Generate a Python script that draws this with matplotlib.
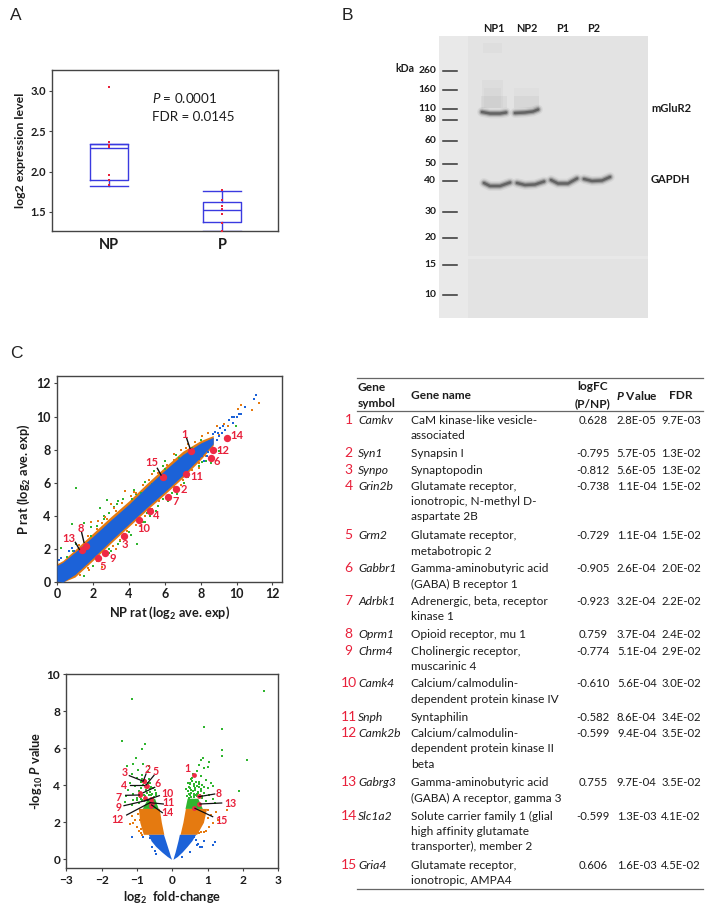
import math
import matplotlib
matplotlib.use("Agg")
import matplotlib.pyplot as plt
from matplotlib.lines import Line2D
from matplotlib.patches import Rectangle

W, H = 714, 913
TXT = "#1c1c1c"
RED = "#e8203a"
BLUE = "#1c62d8"
ORANGE = "#e57a10"
GREEN = "#2fb52f"

plt.rcParams["font.family"] = ["Lato", "DejaVu Sans"]
plt.rcParams["mathtext.fontset"] = "custom"
plt.rcParams["mathtext.rm"] = "Lato"
plt.rcParams["mathtext.it"] = "Lato:italic"
plt.rcParams["mathtext.bf"] = "Lato:bold"
plt.rcParams["mathtext.bfit"] = "Lato:italic:bold"
plt.rcParams["mathtext.default"] = "bf"

# ---- panel A ----
box_names = ["NP", "P"]
np_stats = dict(whislo=1.82, q1=1.90, med=2.29, q3=2.34, whishi=2.34)
p_stats = dict(whislo=1.26, q1=1.38, med=1.52, q3=1.62, whishi=1.76)
np_points = [3.05, 2.36, 2.33, 2.31, 2.30, 1.96, 1.89, 1.84]
p_points = [1.77, 1.65, 1.57, 1.54, 1.47, 1.36, 1.27]

# ---- panel B ----
kda_labels = ["260", "160", "110", "80", "60", "50", "40", "30", "20", "15", "10"]
kda_y = [71, 90.3, 108.7, 120, 141.3, 163.7, 181.3, 212.3, 237.7, 265, 294.7]
lane_names = ["NP1", "NP2", "P1", "P2"]
lane_x = [494.3, 527, 562.3, 594]

# ---- panel C table ----
symbols = ["Camkv", "Syn1", "Synpo", "Grin2b", "Grm2", "Gabbr1", "Adrbk1", "Oprm1",
           "Chrm4", "Camk4", "Snph", "Camk2b", "Gabrg3", "Slc1a2", "Gria4"]
gene_names = [
    ["CaM kinase-like vesicle-", "associated"],
    ["Synapsin I"],
    ["Synaptopodin"],
    ["Glutamate receptor,", "ionotropic, N-methyl D-", "aspartate 2B"],
    ["Glutamate receptor,", "metabotropic 2"],
    ["Gamma-aminobutyric acid", "(GABA) B receptor 1"],
    ["Adrenergic, beta, receptor", "kinase 1"],
    ["Opioid receptor, mu 1"],
    ["Cholinergic receptor,", "muscarinic 4"],
    ["Calcium/calmodulin-", "dependent protein kinase IV"],
    ["Syntaphilin"],
    ["Calcium/calmodulin-", "dependent protein kinase II", "beta"],
    ["Gamma-aminobutyric acid", "(GABA) A receptor, gamma 3"],
    ["Solute carrier family 1 (glial", "high affinity glutamate", "transporter), member 2"],
    ["Glutamate receptor,", "ionotropic, AMPA4"],
]
logfc = [0.628, -0.795, -0.812, -0.738, -0.729, -0.905, -0.923, 0.759,
         -0.774, -0.610, -0.582, -0.599, 0.755, -0.599, 0.606]
p_vals = ["2.8E-05", "5.7E-05", "5.6E-05", "1.1E-04", "1.1E-04", "2.6E-04", "3.2E-04", "3.7E-04",
          "5.1E-04", "5.6E-04", "8.6E-04", "9.4E-04", "9.7E-04", "1.3E-03", "1.6E-03"]
fdr_vals = ["9.7E-03", "1.3E-02", "1.3E-02", "1.5E-02", "1.5E-02", "2.0E-02", "2.2E-02", "2.4E-02",
            "2.9E-02", "3.0E-02", "3.4E-02", "3.5E-02", "3.5E-02", "4.1E-02", "4.5E-02"]
row_y = [420, 453.3, 470, 486, 535.7, 568.7, 601.3, 634.8, 651, 683.7, 717, 733.3, 782.7, 816, 865.3]

# ---- panel C scatter: band outlines and stray points ----
band_x = [0, 0.33, 1, 2, 3, 4, 5, 6, 7, 8, 8.7]
blue_low = [0.05, 0, 0.45, 1.45, 2.5, 3.5, 4.5, 5.45, 6.45, 7.55, 8.35]
blue_high = [1.0, 1.2, 1.8, 2.75, 3.75, 4.7, 5.75, 6.75, 7.7, 8.4, 8.75]
orange_low = [0, 0, 0.3, 1.3, 2.35, 3.35, 4.35, 5.3, 6.3, 7.4, 8.25]
orange_high = [1.1, 1.3, 1.95, 2.95, 3.95, 4.9, 5.95, 6.95, 7.9, 8.55, 8.85]
red_x = [7.45, 6.6, 3.75, 5.2, 2.3, 8.55, 6.2, 1.6, 2.65, 4.55, 7.2, 8.7, 1.4, 9.45, 5.9]
red_y = [7.9, 5.6, 2.8, 4.3, 1.45, 7.5, 5.15, 2.2, 1.75, 3.75, 6.5, 7.95, 1.95, 8.7, 6.35]
green_x = [1.07, 0.82, 2.8, 2.4, 3.36, 4.47, 1.5, 0.25, 0.9, 1.25, 1.5, 2.9, 3.1, 2.2, 2.6, 3.5, 3.9,
           4.2, 4.4, 4.7, 5.0, 5.3, 5.5, 5.9, 5.2, 6.2, 6.7, 7.1, 6.0, 6.8, 7.4, 7.9, 8.3, 8.6, 9.0,
           9.95, 3.4, 3.0, 2.9, 3.7, 4.9, 5.5, 7.5, 8.0, 1.9, 1.05, 0.55, 0.7, 4.0, 5.9,
           1.9, 2.6, 3.2, 3.7, 4.3, 4.9, 5.4, 6.0, 6.6, 2.0, 2.9, 3.4, 4.1, 4.8, 5.6, 6.4, 7.3, 8.1]
green_y = [5.69, 3.48, 4.98, 4.5, 4.7, 2.3, 0.35, 2.05, 1.9, 1.35, 3.55, 4.2, 2.15, 3.4, 3.8, 2.5,
           3.1, 5.0, 5.3, 5.4, 4.15, 5.9, 6.05, 7.0, 4.0, 4.9, 5.3, 6.0, 6.8, 7.5, 7.0, 7.0, 7.3,
           7.2, 7.9, 9.44, 4.9, 1.9, 2.0, 2.85, 3.6, 4.3, 8.1, 8.6, 2.8, 2.3, 1.5, 0.3, 3.0, 5.0,
           3.3, 4.0, 4.55, 5.0, 5.55, 6.05, 6.7, 7.3, 7.7, 0.95, 1.75, 2.3, 2.85, 3.65, 4.6, 5.35, 6.35, 7.25]
orange_x = [11.27, 10.86, 10.1, 10.25, 9.3, 9.5, 9.0, 3.0, 3.2, 2.7, 2.5, 1.9, 2.3, 3.8, 4.3, 5.3,
            6.5, 7.3, 8.4, 8.9, 9.1, 1.8, 3.3, 4.7, 7.9, 6.9,
            1.2, 1.7, 2.2, 2.5, 2.8, 3.3, 3.6, 4.1, 4.4, 4.8, 5.1, 5.6, 6.1, 6.5, 6.9, 7.2, 7.7, 8.1,
            1.3, 1.7, 2.2, 2.6, 3.1, 3.5, 3.9, 4.4, 4.9, 5.3, 5.7, 6.1, 6.5, 7.0, 7.5, 7.9, 8.3, 8.7]
orange_y = [10.84, 10.39, 10.45, 10.7, 9.55, 9.4, 8.9, 4.7, 4.5, 3.9, 0.9, 3.6, 3.7, 5.5, 5.45, 6.5,
            7.75, 8.35, 9.0, 9.4, 9.3, 0.7, 2.0, 3.4, 6.9, 5.85,
            2.25, 2.75, 3.2, 3.55, 3.8, 4.3, 4.75, 5.2, 5.4, 5.85, 6.15, 6.6, 7.1, 7.4, 7.95, 8.1, 8.45, 8.85,
            0.45, 0.85, 1.25, 1.75, 2.2, 2.55, 3.1, 3.45, 4.0, 4.4, 4.9, 5.2, 5.75, 6.15, 6.75, 7.2, 7.6, 8.1]
blue_x = [11.07, 10.97, 10.47, 10.25, 10.12, 9.73, 9.88, 9.58, 9.79, 10.0, 9.23, 9.35, 9.08, 8.97,
          8.8, 9.2, 8.7, 8.9, 9.0, 0.25, 0.1, 0.65, 0.85, 0.95, 7.9, 8.1, 8.4, 8.2, 8.35]
blue_y = [11.3, 11.08, 10.6, 10.15, 10.15, 9.95, 9.95, 9.8, 9.62, 9.95, 9.44, 9.2, 9.3, 9.0,
          9.08, 9.0, 8.95, 8.6, 8.8, 1.45, 1.3, 1.9, 2.05, 1.85, 7.45, 7.6, 7.85, 7.3, 7.6]

# ---- panel C volcano ----
v_blue_y = [0, 0.15, 0.4, 0.7, 1.0, 1.35]
v_blue_l_out = [-0.02, -0.14, -0.30, -0.47, -0.60, -0.68]
v_blue_l_in = [-0.02, -0.05, -0.09, -0.14, -0.19, -0.25]
v_blue_r_in = [0.02, 0.04, 0.08, 0.12, 0.16, 0.20]
v_blue_r_out = [0.02, 0.14, 0.28, 0.42, 0.55, 0.66]
v_or_y = [1.35, 2.0, 2.75]
v_or_l_out = [-0.82, -0.92, -0.96]
v_or_l_in = [-0.24, -0.31, -0.37]
v_or_r_in = [0.22, 0.30, 0.37]
v_or_r_out = [0.69, 0.88, 0.97]
v_gr_y = [2.75, 3.3]
v_gr_l_out = [-0.85, -0.70]
v_gr_l_in = [-0.40, -0.50]
v_gr_r_in = [0.36, 0.42]
v_gr_r_out = [0.85, 0.72]
v_green_x = [2.59, -1.14, 0.91, 1.42, -1.43, -0.77, -0.85, 1.40, 1.42, -1.03, 2.12, 1.90, 0.88, 0.82,
             1.05, 1.02, 0.75, 0.90, -0.82, -1.10, -1.29, -0.66, -0.96, -1.15, -1.0, -0.85, -0.7,
             -1.2, -1.05, -0.9, -0.62, -0.55, -0.95, -1.1, -1.25, -1.35, -1.0, -0.8, -0.45, -0.6,
             -0.85, -0.75, -1.15, -0.65, -0.5, -0.95, -1.3, -1.1,
             0.55, 0.6, 0.7, 0.8, 0.95, 1.1, 0.85, 0.5, 0.65, 0.75, 1.0, 1.05, 1.15, 0.6, 0.5, 0.9,
             0.7, 0.55, 0.8, 0.45, 0.95, 1.2, 0.65, 0.85, 0.75, 0.5, 1.15, 0.6,
             -0.92, -0.84, -0.78, -0.72, -0.66, -0.58, -0.52, -0.47, -0.9, -0.82, -0.74, -0.63, -0.55,
             -1.0, -0.88, -0.7, -0.6, -0.78, -0.68, -0.5, -0.86, -0.76, -0.64,
             0.42, 0.48, 0.54, 0.6, 0.66, 0.72, 0.78, 0.85, 0.4, 0.46, 0.52, 0.58, 0.64, 0.7, 0.8,
             0.44, 0.5, 0.56, 0.62, 0.68, 0.74, 0.9, 0.48, 0.54, 0.6, 0.7, 0.76, 0.52, 0.58]
v_green_y = [9.08, 8.67, 7.15, 7.03, 6.41, 6.23, 5.95, 5.89, 5.59, 5.48, 5.35, 3.71, 5.46, 5.37,
             5.24, 5.0, 5.08, 4.92, 5.15, 5.13, 5.05, 5.03, 4.83, 4.6, 4.4, 4.55, 4.7,
             4.15, 3.95, 4.2, 4.1, 3.85, 3.7, 3.55, 3.75, 3.1, 3.3, 3.45, 3.6, 3.45,
             3.2, 3.75, 2.95, 4.35, 3.1, 3.05, 3.4, 3.2,
             4.25, 3.95, 4.75, 4.5, 4.3, 4.1, 4.0, 3.85, 3.75, 4.2, 3.85, 3.5, 3.25, 3.55, 4.05, 3.6,
             3.4, 4.4, 3.8, 3.7, 3.15, 3.05, 4.55, 3.3, 3.9, 3.45, 3.95, 3.15,
             3.35, 3.5, 3.4, 3.6, 3.5, 3.55, 3.35, 3.45, 3.85, 4.0, 3.9, 3.8, 3.3,
             3.2, 3.25, 4.05, 3.9, 4.2, 4.15, 3.75, 4.35, 3.3, 3.65,
             3.4, 3.55, 3.35, 3.5, 3.45, 3.6, 3.45, 3.4, 3.8, 3.9, 3.75, 3.7, 3.85, 3.95, 3.7,
             4.1, 4.15, 4.25, 4.05, 4.2, 3.65, 3.9, 3.3, 3.6, 3.35, 3.55, 4.05, 4.35, 4.6]
v_orange_x = [-1.2, -1.1, -1.05, -1.0, -1.15, -0.95, -0.98, 1.25, 1.54, 1.15, 1.05, 0.95, 1.0, 1.1,
              1.3, 0.9, -0.92, -0.9, -0.88, -0.85, 0.75, 0.8, 0.92, 1.02]
v_orange_y = [1.89, 1.95, 2.15, 1.75, 2.35, 1.55, 2.45, 2.58, 2.67, 1.95, 1.75, 1.55, 2.25, 2.4,
              2.1, 1.45, 2.1, 1.65, 1.4, 1.3, 1.4, 1.5, 2.6, 2.65]
v_blue_x = [-1.14, -0.82, 0.66, 0.78, 0.9, 1.16, 1.2, 0.74, 0.85, 0.5, 0.28, -0.63, -0.58, -0.5,
            0.62, 0.7, -0.45]
v_blue_y_pts = [1.19, 1.22, 1.05, 0.68, 1.0, 0.77, 0.92, 0.85, 0.68, 0.41, 0.1, 1.13, 0.68, 0.45,
                1.2, 0.75, 0.3]


def ax_px(l, t, r, b):
    return fig.add_axes([l / W, 1 - b / H, (r - l) / W, (b - t) / H])


def put(x, y, s, **kw):
    kw.setdefault("va", "center")
    kw.setdefault("color", TXT)
    fig.text(x / W, 1 - y / H, s, **kw)


def seg(x0, y0, x1, y1, color="#111111", lw=1.0):
    fig.add_artist(Line2D([x0 / W, x1 / W], [1 - y0 / H, 1 - y1 / H], color=color, lw=lw))


def style_ax(ax, size):
    for s in ax.spines.values():
        s.set_color("#444444")
        s.set_linewidth(1.0)
    ax.tick_params(length=2.5, width=0.8, color="#444444", labelsize=size, labelcolor=TXT, pad=2)
    for t in ax.get_xticklabels() + ax.get_yticklabels():
        t.set_fontweight("bold")


fig = plt.figure(figsize=(W / 100, H / 100), dpi=100)

for name, x, y in [("A", 10, 16), ("B", 342, 16), ("C", 10, 353)]:
    put(x, y, name, fontsize=12.5, family="Liberation Sans", color="#222222")

# ---- A: box plot ----
ax = ax_px(52, 70, 278, 231)
stats = [dict(np_stats, label=box_names[0]), dict(p_stats, label=box_names[1])]
line = dict(color="#3a3ae0", lw=1.0)
ax.bxp(stats, positions=[1, 2], widths=0.33, showfliers=False, capwidths=0.33,
       boxprops=line, medianprops=line, whiskerprops=line, capprops=line)
ax.scatter([1] * len(np_points), np_points, s=2, color=RED, marker="s", lw=0, zorder=4)
ax.scatter([2] * len(p_points), p_points, s=2, color=RED, marker="s", lw=0, zorder=4)
ax.set_xlim(0.496, 2.496)
ax.set_ylim(1.265, 3.256)
ax.set_yticks([1.5, 2.0, 2.5, 3.0])
ax.set_xticks([1, 2], box_names)
ax.set_ylabel("log2 expression level", fontweight="bold", fontsize=8.9, color=TXT, labelpad=3)
style_ax(ax, 8)
ax.tick_params(axis="x", length=0, labelsize=10.5, pad=5)
put(151.7, 98.3, "$\\mathit{P}$ = 0.0001", fontsize=9.6)
put(151.7, 117, "FDR = 0.0145", fontsize=9.6)

# ---- B: blot ----
ax = ax_px(439, 36, 648, 318)
ax.set_xlim(439, 648)
ax.set_ylim(318, 36)
ax.axis("off")
ax.add_patch(Rectangle((439, 36), 209, 282, color="#e3e3e3", lw=0))
ax.add_patch(Rectangle((439, 36), 29, 282, color="#e9e9e9", lw=0))
ax.add_patch(Rectangle((468, 256), 180, 3, color="#e8e8e8", lw=0))
for x0, x1, y0, y1, a in [(482, 503, 80, 108, 0.035), (514, 539, 88, 108, 0.025),
                          (483, 502, 43, 53, 0.03), (481, 507, 96, 108, 0.05),
                          (514, 539, 96, 108, 0.05), (484, 501, 88, 108, 0.03)]:
    ax.add_patch(Rectangle((x0, y0), x1 - x0, y1 - y0, color="#444444", alpha=a, lw=0))


def band(xs, ys):
    for lw, alpha, col in [(7, 0.08, "#444444"), (5, 0.16, "#444444"), (3.4, 0.3, "#3a3a3a"), (1.8, 0.5, "#333333")]:
        ax.plot(xs, ys, color=col, lw=lw, alpha=alpha, solid_capstyle="round")


band([482, 490, 500, 506], [112, 113.5, 113.5, 112.5])
band([515, 525, 533, 538], [113, 112.5, 111.5, 109.5])
band([484, 490, 500, 510], [183, 186, 186, 182.5])
band([517, 525, 535, 544], [183, 185, 184.5, 181.5])
band([551, 558, 568, 577], [180, 183.5, 183.5, 178.5])
band([584, 592, 602, 610], [179, 181, 180.5, 177])

for lab, y in zip(kda_labels, kda_y):
    seg(443.3, y, 457.3, y, color="#333333", lw=1.1)
    put(436, y - 0.5, lab, ha="right", fontsize=7.4, fontweight="bold")
put(395, 69, "kDa", fontsize=7.6, fontweight="bold")
for lab, x in zip(lane_names, lane_x):
    put(x, 28.3, lab, ha="center", fontsize=7.8, fontweight="bold")
put(651, 108, "mGluR2", fontsize=8, fontweight="bold")
put(651, 179, "GAPDH", fontsize=8, fontweight="bold")

# ---- C: scatter of the two groups ----
ax = ax_px(57, 376, 282, 582)
ax.fill_between(band_x, orange_low, orange_high, color=ORANGE, lw=0, zorder=1)
ax.scatter(green_x, green_y, s=3.5, color=GREEN, marker="s", lw=0, zorder=2)
ax.scatter(orange_x, orange_y, s=3.5, color=ORANGE, marker="s", lw=0, zorder=2)
ax.fill_between(band_x, blue_low, blue_high, color=BLUE, lw=0, zorder=3)
ax.scatter(blue_x, blue_y, s=3.5, color=BLUE, marker="s", lw=0, zorder=3)
ax.scatter(red_x, red_y, s=28, color="#ee2a45", lw=0, zorder=5)
ax.set_xlim(0, 12.53)
ax.set_ylim(0, 12.45)
ax.set_xticks(range(0, 13, 2))
ax.set_yticks(range(0, 13, 2))
ax.set_xlabel("NP rat (log$_{2}$ ave. exp)", fontweight="bold", fontsize=9.2, color=TXT, labelpad=3)
ax.set_ylabel("P rat (log$_{2}$ ave. exp)", fontweight="bold", fontsize=9.2, color=TXT, labelpad=3)
style_ax(ax, 9)

scatter_labels = [("1", 553, 282), ("14", 709, 285), ("12", 667, 333), ("6", 649, 365), ("11", 589, 408),
                  ("15", 456, 367), ("2", 551, 449), ("7", 527, 485), ("4", 469, 527), ("10", 430, 564),
                  ("3", 374, 613), ("9", 338, 654), ("5", 307, 680), ("8", 241, 564), ("13", 205, 597)]
for lab, zx, zy in scatter_labels:
    put(zx / 3, 340 + zy / 3, lab, ha="center", fontsize=8, fontweight="bold", color=RED)
for zx0, zy0, zx1, zy1 in [(560, 295, 570, 325), (472, 385, 483, 405), (245, 578, 252, 607), (226, 607, 238, 628)]:
    seg(zx0 / 3, 340 + zy0 / 3, zx1 / 3, 340 + zy1 / 3, lw=1.0)

# ---- C: volcano ----
ax = ax_px(66.3, 674.3, 278.3, 868.3)
for l_out, l_in, r_in, r_out, ys, col in [
        (v_gr_l_out, v_gr_l_in, v_gr_r_in, v_gr_r_out, v_gr_y, GREEN),
        (v_or_l_out, v_or_l_in, v_or_r_in, v_or_r_out, v_or_y, ORANGE),
        (v_blue_l_out, v_blue_l_in, v_blue_r_in, v_blue_r_out, v_blue_y, BLUE)]:
    ax.fill_betweenx(ys, l_out, l_in, color=col, lw=0, zorder=2)
    ax.fill_betweenx(ys, r_in, r_out, color=col, lw=0, zorder=2)
ax.scatter(v_green_x, v_green_y, s=2.8, color=GREEN, marker="s", lw=0, zorder=2)
ax.scatter(v_orange_x, v_orange_y, s=2.8, color=ORANGE, marker="s", lw=0, zorder=2)
ax.scatter(v_blue_x, v_blue_y_pts, s=2.8, color=BLUE, marker="s", lw=0, zorder=2)
ax.scatter(logfc, [-math.log10(float(p)) for p in p_vals], s=12, color="#ee2a45", lw=0, zorder=4)
ax.set_xlim(-3, 3)
ax.set_ylim(-0.486, 10)
ax.set_xticks(range(-3, 4), ["\u22123", "\u22122", "\u22121", "0", "1", "2", "3"])
ax.set_yticks(range(0, 11, 2))
ax.set_xlabel("log$_{2}$  fold-change", fontweight="bold", fontsize=9.2, color=TXT, labelpad=3)
ax.set_ylabel("-log$_{10}$ $\\mathbfit{P}$ value", fontweight="bold", fontsize=9.2, color=TXT, labelpad=1)
style_ax(ax, 8.6)

volcano_labels = [("1", 563, 414), ("3", 373, 427), ("2", 443, 419), ("5", 468, 424), ("4", 371, 465),
                  ("6", 474, 461), ("7", 357, 502), ("10", 501, 490), ("9", 355, 533), ("11", 505, 518),
                  ("14", 502, 546), ("12", 353, 567), ("8", 655, 491), ("13", 691, 520), ("15", 664, 572)]
for lab, zx, zy in volcano_labels:
    put(zx / 3, 630 + zy / 3, lab, ha="center", fontsize=7.6, fontweight="bold", color=RED)
for zx0, zy0, zx1, zy1 in [(388, 437, 428, 453), (438, 432, 430, 453), (462, 436, 438, 465), (390, 466, 432, 466),
                           (464, 472, 430, 488), (377, 496, 418, 495), (478, 497, 432, 513), (372, 527, 445, 510),
                           (490, 522, 450, 518), (487, 548, 455, 525), (380, 555, 450, 518), (644, 492, 597, 500),
                           (665, 519, 600, 522), (638, 560, 585, 535)]:
    seg(zx0 / 3, 630 + zy0 / 3, zx1 / 3, 630 + zy1 / 3, lw=0.9)

# ---- C: table ----
rule = "#666666"
seg(357.3, 378.3, 703, 378.3, color=rule, lw=0.9)
seg(357.3, 411.3, 703, 411.3, color=rule, lw=0.9)
seg(357.3, 889, 703, 889, color=rule, lw=0.9)
FS = 8.6      # header and gene names
FS_NUM = 8.2  # number columns
put(358, 387.3, "Gene", fontsize=FS, fontweight="bold")
put(358, 403.3, "symbol", fontsize=FS, fontweight="bold")
put(410.7, 395.3, "Gene name", fontsize=FS, fontweight="bold")
put(593, 387, "logFC", ha="center", fontsize=FS, fontweight="bold")
put(593, 403.3, "(P/NP)", ha="center", fontsize=FS, fontweight="bold")
put(636.7, 395.3, "$\\mathbfit{P}$ Value", ha="center", fontsize=FS, fontweight="bold")
put(681, 395.3, "FDR", ha="center", fontsize=FS, fontweight="bold")
for i, y in enumerate(row_y):
    put(348.5, y - 0.5, str(i + 1), ha="center", fontsize=10, color=RED)
    put(358, y, symbols[i], fontsize=8.7, style="italic")
    for j, part in enumerate(gene_names[i]):
        put(410.7, y + j * 15.35, part, fontsize=FS)
    put(593, y, f"{logfc[i]:.3f}", ha="center", fontsize=FS_NUM)
    put(636.7, y, p_vals[i], ha="center", fontsize=FS_NUM)
    put(681, y, fdr_vals[i], ha="center", fontsize=FS_NUM)

fig.savefig("out.png", dpi=100)
